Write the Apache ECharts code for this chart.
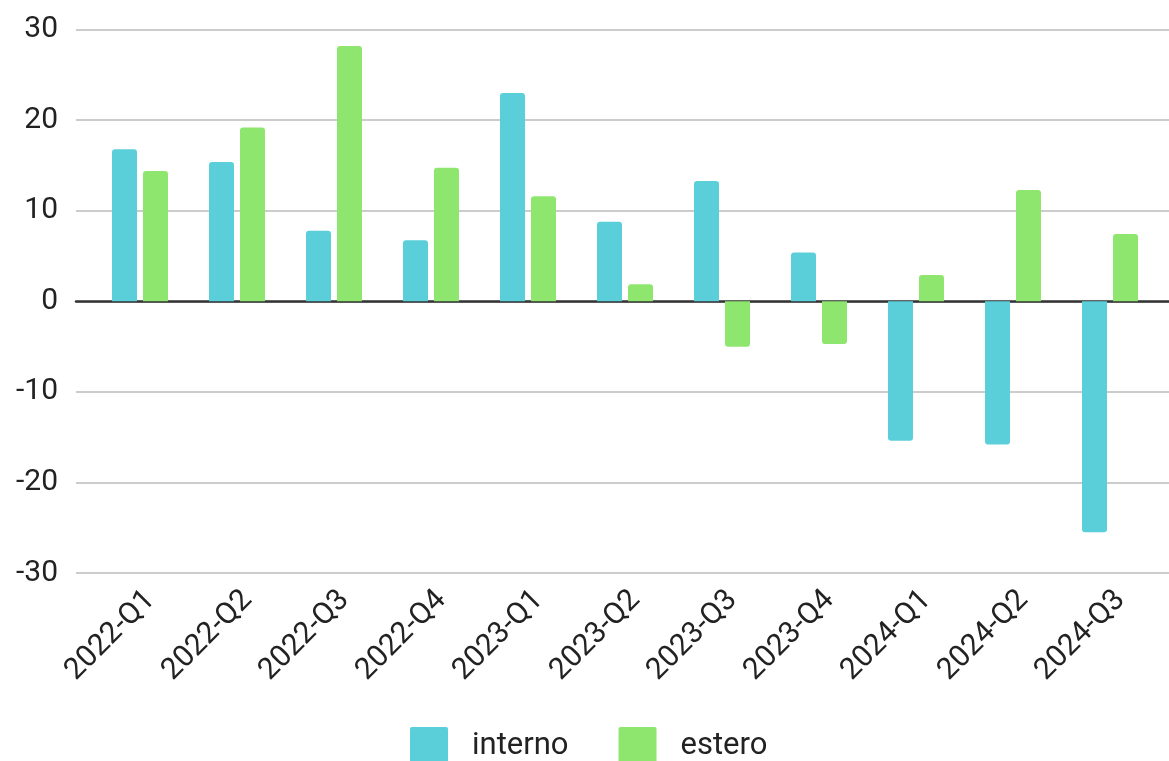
<!DOCTYPE html>
<html>
<head>
<meta charset="utf-8">
<script src="https://cdn.jsdelivr.net/npm/echarts@6/dist/echarts.min.js"></script>
<style>
html,body{margin:0;padding:0;background:#fff;}
#main{width:1169px;height:761px;}
</style>
</head>
<body>
<div id="main"></div>
<script>
const categories = ['2022-Q1','2022-Q2','2022-Q3','2022-Q4','2023-Q1','2023-Q2','2023-Q3','2023-Q4','2024-Q1','2024-Q2','2024-Q3'];
const interno = [16.8, 15.4, 7.8, 6.75, 23.0, 8.8, 13.3, 5.4, -15.4, -15.8, -25.5];
const estero = [14.4, 19.2, 28.2, 14.75, 11.6, 1.9, -5.0, -4.7, 2.9, 12.3, 7.45];
const yTicks = [-30, -20, -10, 0, 10, 20, 30];

const colInterno = '#5acfda';
const colEstero = '#8ee66f';
const FONT = 'Roboto';

function items(arr) {
  return arr.map(v => ({
    value: v,
    itemStyle: { borderRadius: v >= 0 ? [3, 3, 0, 0] : [0, 0, 3, 3] }
  }));
}

const chart = echarts.init(document.getElementById('main'), null, { renderer: 'canvas' });
const gridTop = 29.7, gridHeight = 543.3;
chart.setOption({
  animation: false,
  backgroundColor: '#ffffff',
  textStyle: { fontFamily: FONT },
  grid: [
    { left: 76, right: 0, top: gridTop, height: gridHeight, containLabel: false },
    { left: 91.5, right: 10.5, top: gridTop, height: gridHeight, containLabel: false }
  ],
  legend: {
    data: ['interno', 'estero'],
    left: 410,
    top: 727,
    padding: 0,
    itemWidth: 38,
    itemHeight: 38,
    itemGap: 50,
    icon: 'path://M2,0 H36 Q38,0 38,2 V36 Q38,38 36,38 H2 Q0,38 0,36 V2 Q0,0 2,0 Z',
    textStyle: { fontSize: 31, color: '#222', fontFamily: FONT, padding: [0, 0, 0, 19] }
  },
  xAxis: [
    {
      gridIndex: 0, type: 'category', data: categories,
      axisLine: { show: true, onZero: true, lineStyle: { color: '#333', width: 2.5 } },
      axisTick: { show: false }, axisLabel: { show: false }, splitLine: { show: false }
    },
    {
      gridIndex: 1, type: 'category', data: categories,
      axisLine: { show: false }, axisTick: { show: false },
      axisLabel: { show: true, rotate: 45, margin: 12, verticalAlign: 'top', fontSize: 30, color: '#222', fontFamily: FONT, interval: 0 },
      splitLine: { show: false }
    }
  ],
  yAxis: [
    {
      gridIndex: 0, type: 'value', min: yTicks[0], max: yTicks[yTicks.length - 1], interval: 10,
      axisLine: { show: false }, axisTick: { show: false },
      axisLabel: { fontSize: 30, color: '#222', margin: 18, fontFamily: FONT },
      splitLine: { show: true, lineStyle: { color: '#cccccc', width: 2 } }
    },
    {
      gridIndex: 1, type: 'value', min: yTicks[0], max: yTicks[yTicks.length - 1], interval: 10,
      show: false
    }
  ],
  series: [
    {
      name: 'interno', type: 'bar', xAxisIndex: 1, yAxisIndex: 1,
      data: items(interno), barWidth: 25, barGap: '24%',
      itemStyle: { color: colInterno }, z: 3
    },
    {
      name: 'estero', type: 'bar', xAxisIndex: 1, yAxisIndex: 1,
      data: items(estero), barWidth: 25, barGap: '24%',
      itemStyle: { color: colEstero }, z: 3
    }
  ]
});
</script>
</body>
</html>
